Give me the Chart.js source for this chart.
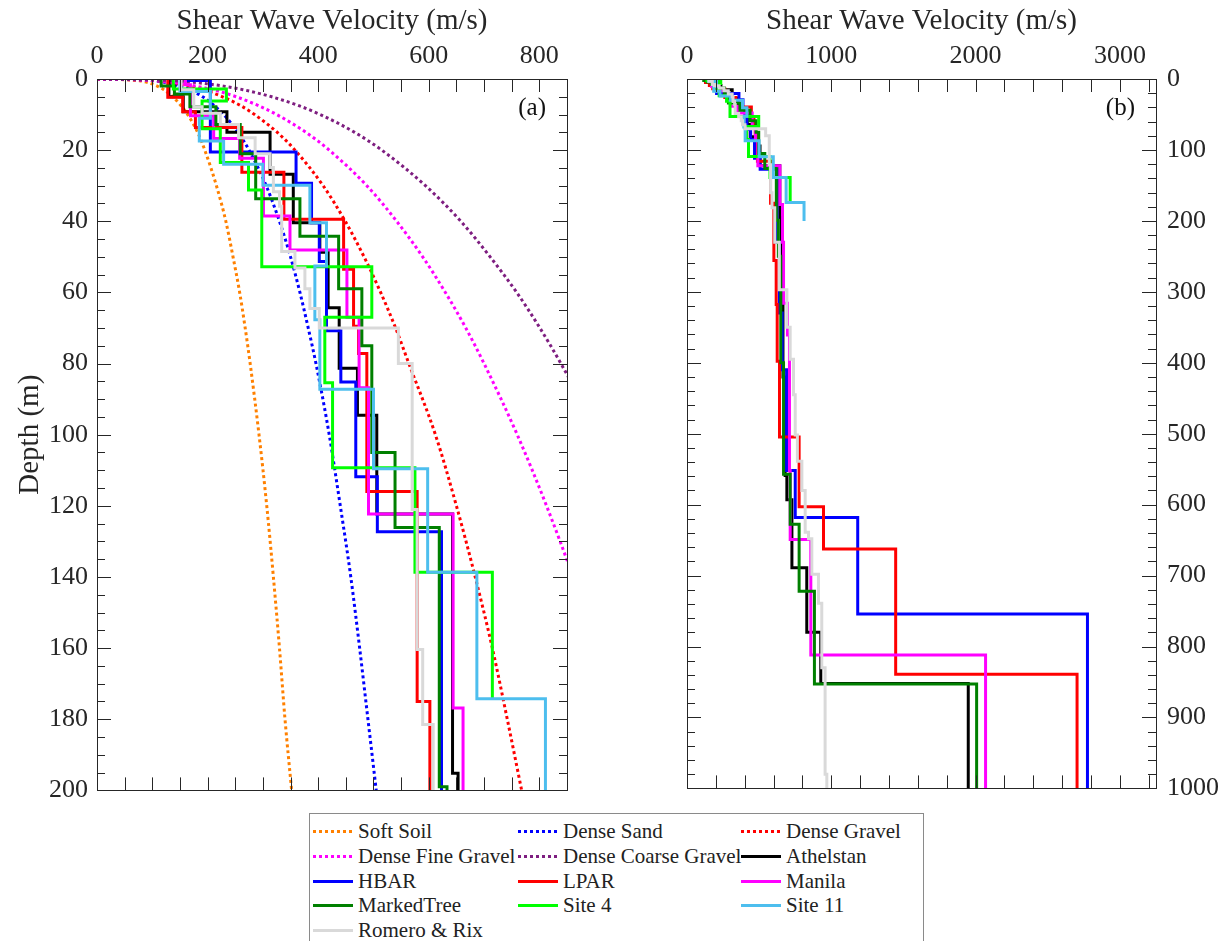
<!DOCTYPE html>
<html>
<head>
<meta charset="utf-8">
<script src="https://cdn.jsdelivr.net/npm/chart.js@4.4.1/dist/chart.umd.min.js"></script>
<style>
  body { margin: 0; background: #fff; width: 1227px; height: 941px; overflow: hidden; position: relative; }
  canvas { position: absolute; top: 0; }
  #legend {
    position: absolute; left: 309px; top: 813px; width: 615px; height: 140px;
    border: 1px solid #8a8a8a; background: #fff; box-sizing: border-box;
    font-family: 'Liberation Serif', 'Times New Roman', serif; font-size: 21px; color: #222;
  }
  .item { position: absolute; height: 25px; line-height: 25px; white-space: nowrap; }
  .sample { position: absolute; left: 0; top: 11px; width: 40px; height: 3px; }
  .item span { position: absolute; left: 45px; top: 0; }
</style>
</head>
<body>
<canvas id="chartA" width="575" height="815" style="left:0"></canvas>
<canvas id="chartB" width="627" height="815" style="left:600px"></canvas>
<div id="legend"></div>
<script>
const FONT = "'Liberation Serif', 'Times New Roman', serif";

// reference curves (depth in m, Vs in m/s)
const refDepth = [0, 0.5, 1, 2, 3, 5, 7.5, 10, 15, 20, 30, 40, 50, 60, 70, 80, 100, 120, 140, 160, 180, 200];
const softSoil = [0, 77, 92, 109, 121, 137, 152, 164, 182, 195, 216, 233, 246, 258, 268, 277, 293, 307, 319, 330, 340, 352];
const denseSand = [0, 104, 125, 150, 167, 191, 212, 229, 255, 275, 306, 330, 350, 367, 382, 396, 420, 440, 459, 475, 490, 505];
const denseGravel = [0, 107, 134, 168, 192, 227, 260, 285, 326, 358, 409, 449, 483, 513, 540, 564, 612, 650, 684, 715, 742, 768];
const denseFineGravel = [0, 108, 139, 179, 209, 252, 292, 325, 378, 420, 488, 542, 589, 630, 667, 700, 760, 813, 861, 905, 944, 982];
const denseCoarseGravel = [0, 141, 180, 229, 264, 316, 365, 404, 466, 515, 594, 658, 711, 759, 801, 839, 908, 968, 1022, 1071, 1117, 1159];

// site profiles: layer velocity and layer bottom depth
const athelstanVs = [130, 156, 235, 313, 355, 403, 418, 438, 471, 506, 643, 653, 665, 680, 692, 727, 830, 927, 1949];
const athelstanZ = [5, 9.2, 15, 26.8, 40.4, 48.7, 64.3, 81.3, 94.5, 122.3, 195.2, 300, 420, 559, 593, 689, 780, 852, 1000];
const hbarVs = [162, 205, 360, 388, 402, 415, 441, 468, 507, 623, 640, 660, 690, 750, 1183, 2775];
const hbarZ = [0.4, 20.5, 29.3, 40.4, 51.3, 70.8, 85.2, 111.8, 127.3, 230, 330, 410, 552, 618, 754, 1000];
const lparVs = [128, 155, 178, 262, 338, 446, 464, 473, 488, 579, 602, 618, 625, 641, 777, 946, 1446, 2703];
const lparZ = [5.1, 9.2, 13.6, 26.2, 39.4, 53.5, 69.5, 77.2, 116, 175, 256, 318, 398, 504.6, 603, 662.6, 839, 1000];
const manilaVs = [160, 169, 211, 258, 301, 349, 452, 474, 491, 644, 662, 669, 696, 710, 715, 858, 2069];
const manilaZ = [1.6, 10.3, 16.7, 22.3, 38.5, 48.1, 67, 86.8, 122.3, 176.8, 230, 316, 361, 552, 649, 812, 1000];
const markedTreeVs = [116, 140, 168, 215, 259, 287, 367, 437, 479, 497, 539, 619, 633, 650, 669, 715, 777, 883, 2007];
const markedTreeZ = [2, 4.2, 7.8, 12.8, 21, 33.7, 44.2, 59, 75, 105, 126.1, 199, 250, 400, 557, 627.5, 722, 853, 1000];
const site4Vs = [138, 234, 190, 223, 274, 298, 497, 412, 426, 575, 715];
const site4Z = [2.8, 6.2, 14, 23.5, 31.2, 52.8, 67, 85.4, 109.3, 138.7, 174.2];
const site11Vs = [150, 205, 185, 229, 300, 385, 415, 394, 403, 500, 598, 687, 811];
const site11Z = [3.5, 11, 17.4, 24, 29.9, 40.4, 52.6, 67.7, 87.2, 109.6, 138.7, 174.2, 200];
const romeroVs = [152, 175, 190, 223, 256, 286, 313, 319, 330, 334, 358, 376, 385, 402, 545, 570, 579, 589, 608, 640, 692, 715, 738, 750, 765, 796, 819, 842, 865, 911, 934, 957, 969];
const romeroZ = [3, 7.8, 9.6, 12.8, 16.5, 21, 24.9, 31.7, 35.8, 48.5, 53.1, 59, 64.5, 70, 80, 121, 160.4, 181.5, 230, 297, 350, 395, 445, 502, 539, 580, 639, 648, 698, 739, 830, 980, 1000];

function curve(vs) {
    return refDepth.map((d, i) => ({ x: vs[i], y: d }));
}

function steps(vs, z) {
    const pts = [{ x: vs[0], y: 0 }];
    for (let i = 0; i < vs.length; i++) {
        pts.push({ x: vs[i], y: z[i] });
        if (i + 1 < vs.length) pts.push({ x: vs[i + 1], y: z[i] });
    }
    return pts;
}

const refs = [
    { label: 'Soft Soil', color: '#FF8000', data: softSoil },
    { label: 'Dense Sand', color: '#0000FF', data: denseSand },
    { label: 'Dense Gravel', color: '#FF0000', data: denseGravel },
    { label: 'Dense Fine Gravel', color: '#FF00FF', data: denseFineGravel },
    { label: 'Dense Coarse Gravel', color: '#7E1E80', data: denseCoarseGravel }
];
const sites = [
    { label: 'Athelstan', color: '#000000', vs: athelstanVs, z: athelstanZ },
    { label: 'HBAR', color: '#0000FF', vs: hbarVs, z: hbarZ },
    { label: 'LPAR', color: '#FF0000', vs: lparVs, z: lparZ },
    { label: 'Manila', color: '#FF00FF', vs: manilaVs, z: manilaZ },
    { label: 'MarkedTree', color: '#008000', vs: markedTreeVs, z: markedTreeZ },
    { label: 'Site 4', color: '#00FF00', vs: site4Vs, z: site4Z },
    { label: 'Site 11', color: '#4DBEEE', vs: site11Vs, z: site11Z },
    { label: 'Romero & Rix', color: '#D9D9D9', vs: romeroVs, z: romeroZ }
];

function siteSets() {
    return sites.map((s, i) => ({
        label: s.label, data: steps(s.vs, s.z), borderColor: s.color,
        borderWidth: 3, pointRadius: 0, showLine: true, order: 20 - i
    }));
}

// frame + inward ticks on all four sides
const tickFrame = {
    id: 'tickFrame',
    afterDatasetsDraw(chart, args, o) {
        const { ctx, chartArea: a, scales: { x, y } } = chart;
        ctx.save();
        ctx.strokeStyle = '#262626';
        ctx.lineWidth = 1;
        ctx.beginPath();
        for (let v = x.min; v <= x.max + 1e-6; v += o.xStep) {
            const px = Math.round(x.getPixelForValue(v)) + 0.5;
            ctx.moveTo(px, a.top); ctx.lineTo(px, a.top + 13);
            ctx.moveTo(px, a.bottom); ctx.lineTo(px, a.bottom - 13);
        }
        for (let v = y.min; v <= y.max + 1e-6; v += o.yStep) {
            const py = Math.round(y.getPixelForValue(v)) + 0.5;
            const len = Math.abs(v % o.yMajor) < 1e-6 ? 14 : 8;
            ctx.moveTo(a.left, py); ctx.lineTo(a.left + len, py);
            ctx.moveTo(a.right, py); ctx.lineTo(a.right - len, py);
        }
        ctx.stroke();
        ctx.strokeRect(Math.round(a.left) + 0.5, Math.round(a.top) + 0.5,
            Math.round(a.right - a.left), Math.round(a.bottom - a.top));
        ctx.restore();
    }
};

function baseScales(xMax, xStep, xLabel, yMax, yStep, yLabel, yPos, yWidth, yTitle) {
    return {
        x: {
            type: 'linear', position: 'top', min: 0, max: xMax,
            grid: { display: false, drawTicks: false }, border: { display: false },
            ticks: {
                stepSize: xStep, autoSkip: false, maxRotation: 0, includeBounds: false, padding: 7,
                color: '#262626', font: { family: FONT, size: 26 },
                callback: v => (v % xLabel === 0 ? String(v) : '')
            },
            title: {
                display: true, text: 'Shear Wave Velocity (m/s)', color: '#262626',
                font: { family: FONT, size: 29 }, padding: { top: 4, bottom: 0 }
            },
            afterFit: s => { s.height = 79; }
        },
        y: {
            type: 'linear', position: yPos, reverse: true, min: 0, max: yMax,
            grid: { display: false, drawTicks: false }, border: { display: false },
            ticks: {
                stepSize: yStep, autoSkip: false, includeBounds: false, padding: yPos === 'left' ? 9 : 11,
                color: '#262626', font: { family: FONT, size: 26 },
                callback: v => (Math.abs(v % yLabel) < 1e-6 ? String(v) : '')
            },
            title: {
                display: yTitle, text: 'Depth (m)', color: '#262626',
                font: { family: FONT, size: 29 }, padding: { top: 13, bottom: 0 }
            },
            afterFit: s => { s.width = yWidth; }
        }
    };
}

const common = {
    responsive: false, animation: false, devicePixelRatio: 1,
    plugins: { legend: { display: false }, tooltip: { enabled: false } }
};

const refSets = refs.map((r, i) => ({
    label: r.label, data: curve(r.data), borderColor: r.color, borderWidth: 3,
    borderDash: [3, 3], pointRadius: 0, showLine: true,
    cubicInterpolationMode: 'monotone', order: 40 - i
}));

function panelTag(text) {
    return {
        id: 'panelTag',
        afterDraw(chart) {
            const c = chart.ctx, a = chart.chartArea;
            c.save(); c.font = '25px ' + FONT; c.fillStyle = '#111'; c.textAlign = 'right';
            c.fillText(text, a.right - 21, a.top + 36); c.restore();
        }
    };
}

new Chart(document.getElementById('chartA'), {
    type: 'scatter',
    data: { datasets: refSets.concat(siteSets()) },
    options: Object.assign({}, common, {
        layout: { padding: { left: 0, top: 0, right: 8, bottom: 5 } },
        scales: baseScales(850, 50, 200, 200, 5, 20, 'left', 97, true),
        plugins: Object.assign({}, common.plugins, { tickFrame: { xStep: 50, yStep: 5, yMajor: 20 } })
    }),
    plugins: [tickFrame, panelTag('(a)')]
});

new Chart(document.getElementById('chartB'), {
    type: 'scatter',
    data: { datasets: siteSets() },
    options: Object.assign({}, common, {
        layout: { padding: { left: 87, top: 0, right: 0, bottom: 5 } },
        scales: baseScales(3250, 200, 1000, 1000, 20, 100, 'right', 71, false),
        plugins: Object.assign({}, common.plugins, { tickFrame: { xStep: 200, yStep: 20, yMajor: 100 } })
    }),
    plugins: [tickFrame, panelTag('(b)')]
});

// legend box
const legend = document.getElementById('legend');
const colX = [3, 208, 431];
const items = refs.map(r => ({ label: r.label, color: r.color, dotted: true }))
    .concat(sites.map(s => ({ label: s.label, color: s.color, dotted: false })));
items.forEach((it, i) => {
    const el = document.createElement('div');
    el.className = 'item';
    el.style.left = colX[i % 3] + 'px';
    el.style.top = (5 + Math.floor(i / 3) * 24.8) + 'px';
    const bg = it.dotted
        ? 'repeating-linear-gradient(to right, ' + it.color + ' 0 3px, transparent 3px 6px)'
        : it.color;
    el.innerHTML = '<div class="sample" style="background:' + bg + '"></div><span></span>';
    el.querySelector('span').textContent = it.label;
    legend.appendChild(el);
});
</script>
</body>
</html>
